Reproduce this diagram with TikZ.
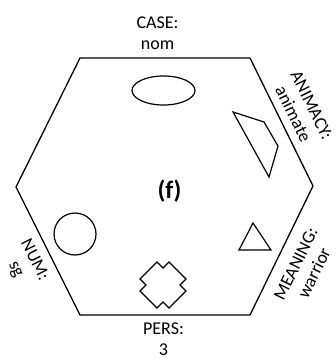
\documentclass[tikz,border=0pt]{standalone}
\usepackage{fontspec}
\setmainfont{Carlito}
\begin{document}
\begin{tikzpicture}[x=1pt,y=-1pt,
  hexline/.style={draw=black, line width=1.3pt, line join=miter},
  figline/.style={draw=black, line width=1.2pt, line join=miter},
  lbl/.style={font=\fontsize{18}{20.5}\selectfont, align=center, inner sep=0pt},
  title/.style={font=\fontsize{25}{30}\selectfont\bfseries, inner sep=0pt}]
\useasboundingbox (0,0) rectangle (336,358);
% hexagon
\coordinate (v1) at (80,58);
\coordinate (v2) at (250,58);
\coordinate (v3) at (313,186);
\coordinate (v4) at (250,315);
\coordinate (v5) at (80,315);
\coordinate (v6) at (16,187);
\draw[hexline] (v1) -- (v2) -- (v3) -- (v4) -- (v5) -- (v6) -- cycle;
% shapes
\draw[figline] (163.5,90.5) ellipse [x radius=31.5, y radius=14.5];
\draw[figline] (233,112) -- (264,122) -- (278,146) -- (269,177) -- cycle;
\draw[figline] (253,223) -- (239,250) -- (271,250) -- cycle;
\draw[figline] (75,234) circle [radius=21];
\begin{scope}[shift={(163,285)}]
\draw[figline] (0,-17) -- (6,-23) -- (23,-6) -- (17,0) -- (23,6) -- (6,23) -- (0,17)
  -- (-6,23) -- (-23,6) -- (-17,0) -- (-23,-6) -- (-6,-23) -- cycle;
\end{scope}
% labels
\node[lbl] (case) at (157.5,33) {CASE:\\nom};
\node[lbl] (pers) at (163.5,339) {PERS:\\3};
\node[lbl, rotate=-63.8] (anim) at (302.5,109.5) {ANIMACY:\\animate};
\node[lbl, rotate=63.8] (mean) at (305,268.5) {MEANING:\\warrior};
\node[lbl, rotate=-63.4] (num) at (25,265) {NUM:\\sg};
\node[title] (f) at (169.5,191) {(f)};
\end{tikzpicture}
\end{document}
